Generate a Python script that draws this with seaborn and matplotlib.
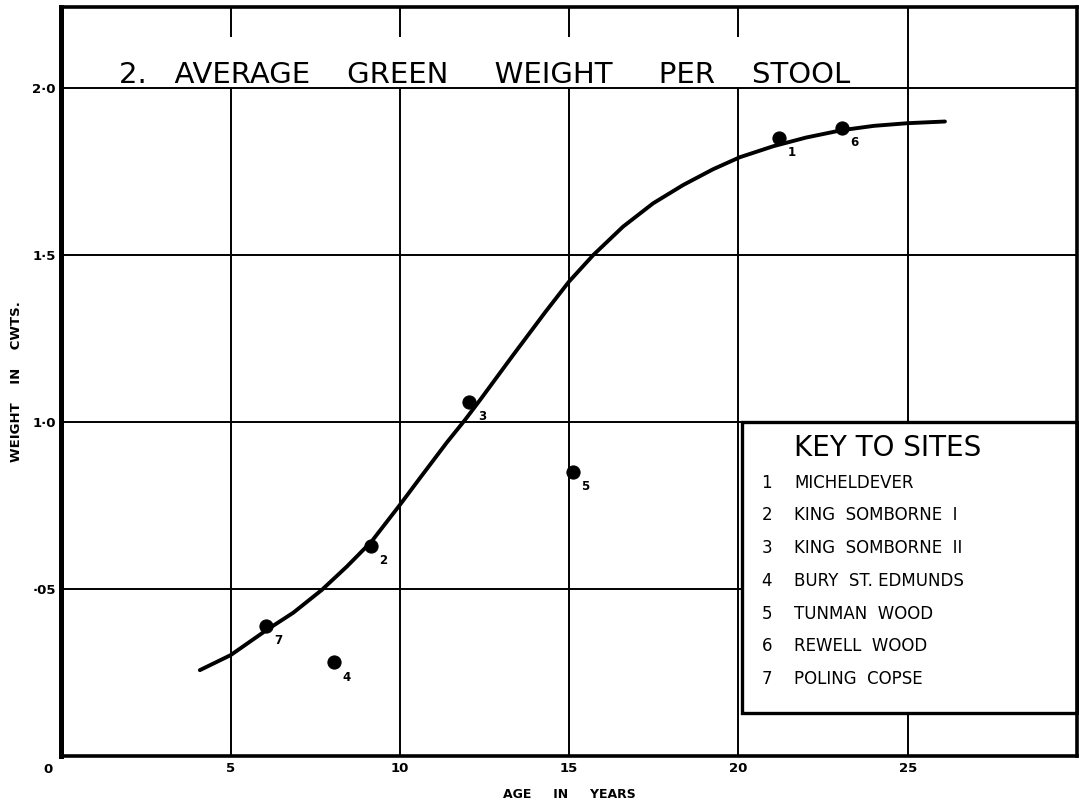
import matplotlib
matplotlib.use("Agg")
import matplotlib.pyplot as plt
import seaborn as sns
from matplotlib.patches import Rectangle

# ---- data ----
site_ids = ["1", "2", "3", "4", "5", "6", "7"]
site_names = ["MICHELDEVER", "KING  SOMBORNE  I", "KING  SOMBORNE  II", "BURY  ST. EDMUNDS",
              "TUNMAN  WOOD", "REWELL  WOOD", "POLING  COPSE"]
site_age = [21.2, 9.15, 12.05, 8.05, 15.1, 23.05, 6.05]
site_weight = [1.85, 0.63, 1.06, 0.28, 0.85, 1.88, 0.39]

curve_age = [4.09, 5.0, 6.06, 6.85, 7.69, 8.43, 9.16, 10.0, 10.59, 11.38, 11.92, 12.36,
             13.34, 14.3, 14.99, 15.71, 16.59, 17.48, 18.37, 19.25, 20.04, 21.03, 22.0,
             23.05, 24.0, 25.0, 26.1]
curve_weight = [0.257, 0.302, 0.377, 0.429, 0.497, 0.567, 0.642, 0.752, 0.832, 0.938, 1.006,
                1.065, 1.200, 1.330, 1.420, 1.500, 1.585, 1.655, 1.710, 1.757, 1.793, 1.826,
                1.852, 1.874, 1.887, 1.895, 1.900]

x_ticks = [5, 10, 15, 20, 25]
x_tick_labels = ["5", "10", "15", "20", "25"]
y_ticks = [0.5, 1.0, 1.5, 2.0]
y_tick_labels = ["·05", "1·0", "1·5", "2·0"]

title_text = "2.   AVERAGE    GREEN     WEIGHT     PER    STOOL"
key_title = "KEY TO SITES"
x_label = "AGE     IN     YEARS"
y_label = "WEIGHT    IN    CWTS."

# ---- figure ----
sns.set_theme(style="white")
plt.rcParams["font.family"] = ["DejaVu Sans"]
plt.rcParams["text.color"] = "black"
plt.rcParams["axes.labelcolor"] = "black"
plt.rcParams["xtick.color"] = "black"
plt.rcParams["ytick.color"] = "black"

fig = plt.figure(figsize=(10.79, 8.02), dpi=100)
ax = fig.add_axes([0.0569, 0.0574, 0.9412, 0.9339])

ax.set_xlim(0, 30)
ax.set_ylim(0, 2.243)
ax.set_axisbelow(True)
ax.grid(True, color="black", lw=1.4)

sns.lineplot(x=curve_age, y=curve_weight, ax=ax, color="black", lw=2.8,
             estimator=None, zorder=3)
sns.scatterplot(x=site_age, y=site_weight, ax=ax, color="black", s=90,
                edgecolor="black", zorder=4, legend=False)

for sid, xa, yw in zip(site_ids, site_age, site_weight):
    ax.annotate(sid, (xa, yw), xytext=(9, -10.5), textcoords="offset points",
                fontsize=8.5, fontweight="bold", ha="center", va="center", zorder=5)

ax.set_xticks(x_ticks)
ax.set_xticklabels(x_tick_labels, fontsize=9.5, fontweight="bold")
ax.set_yticks(y_ticks)
ax.set_yticklabels(y_tick_labels, fontsize=9.5, fontweight="bold")
ax.tick_params(length=0, pad=4)
ax.text(-0.4, -0.04, "0", fontsize=9.5, fontweight="bold", ha="center", va="center",
        clip_on=False)

ax.set_xlabel(x_label, fontsize=9, fontweight="bold", labelpad=10)
ax.set_ylabel(y_label, fontsize=9.5, fontweight="bold", labelpad=7)

for side in ["top", "right", "bottom"]:
    ax.spines[side].set_color("black")
    ax.spines[side].set_linewidth(2.6)
ax.spines["left"].set_color("black")
ax.spines["left"].set_linewidth(3.6)

# title with white backing over gridlines
ax.add_patch(Rectangle((1.0, 2.004), 23.0, 0.15, facecolor="white", edgecolor="none", zorder=1))
ax.text(1.70, 2.015, title_text, fontsize=21, ha="left", va="baseline", zorder=3)

# key box
ax.add_patch(Rectangle((20.1, 0.13), 9.9, 0.87, facecolor="white", edgecolor="black",
                       lw=2.4, zorder=2, clip_on=False))
ax.text(21.64, 0.922, key_title, fontsize=20, ha="left", va="center", zorder=3)
key_rows = [0.817, 0.722, 0.623, 0.524, 0.425, 0.329, 0.231]
for sid, name, ry in zip(site_ids, site_names, key_rows):
    ax.text(20.84, ry, sid, fontsize=12, ha="center", va="center", zorder=3)
    ax.text(21.64, ry, name, fontsize=12, ha="left", va="center", zorder=3)

fig.savefig("out.png", dpi=100)
